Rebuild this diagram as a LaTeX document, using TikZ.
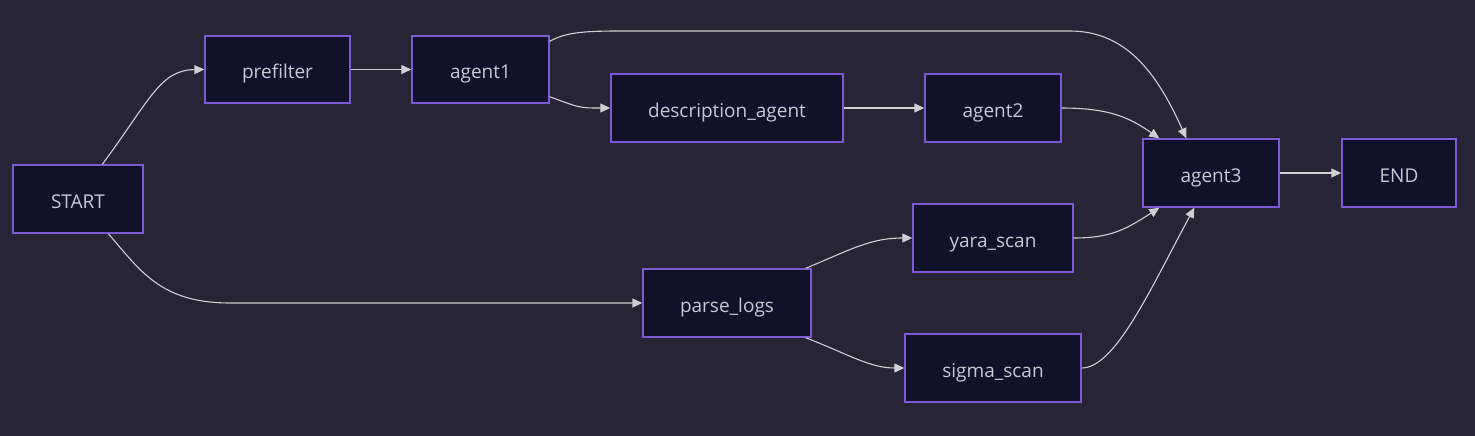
\documentclass[tikz,border=0pt]{standalone}
\usepackage{fontspec}
\setmainfont{Open Sans}
\usetikzlibrary{arrows.meta,calc}
\definecolor{bg}{HTML}{272436}
\definecolor{nodefill}{HTML}{12112A}
\definecolor{nodeborder}{HTML}{7C5AD6}
\definecolor{txt}{HTML}{C9C8D2}
\definecolor{edge}{HTML}{CFCFD4}
\tikzset{
  box/.style={draw=nodeborder, fill=nodefill, line width=1.4pt, text=txt,
    font=\fontsize{19}{21}\selectfont, inner sep=0pt, text height=18pt, text depth=0pt},
  conn/.style={draw=edge, line width=1.1pt, -{Triangle[length=10pt,width=9pt]}},
}
\begin{document}
\begin{tikzpicture}[x=1pt,y=-1pt]
\fill[bg] (0,0) rectangle (1475,436);
\useasboundingbox (0,0) rectangle (1475,436);
\node[box, minimum width=130pt, minimum height=68pt] (start) at (78,199) {START};
\node[box, minimum width=145pt, minimum height=67pt] (prefilter) at (277.5,69.5) {prefilter};
\node[box, minimum width=137pt, minimum height=67pt] (agent1) at (480.5,69.5) {agent1};
\node[box, minimum width=232pt, minimum height=68pt] (desc) at (727,108) {description\_agent};
\node[box, minimum width=136pt, minimum height=68pt] (agent2) at (993,108) {agent2};
\node[box, minimum width=136pt, minimum height=68pt] (agent3) at (1211,173) {agent3};
\node[box, minimum width=114pt, minimum height=68pt] (end) at (1399,173) {END};
\node[box, minimum width=160pt, minimum height=68pt] (yara) at (993,238) {yara\_scan};
\node[box, minimum width=168pt, minimum height=68pt] (parse) at (727,303) {parse\_logs};
\node[box, minimum width=176pt, minimum height=68pt] (sigma) at (993,368) {sigma\_scan};

\coordinate (s1) at ($(start.north west)+(90,0)$);
\coordinate (s2) at ($(start.south west)+(96,0)$);
\coordinate (a1a) at ($(agent1.north east)+(0,6)$);
\coordinate (a1b) at ($(agent1.south east)+(0,-7)$);
\coordinate (a3t1) at ($(agent3.north west)+(17,0)$);
\coordinate (a3t2) at ($(agent3.north west)+(44,0)$);
\coordinate (a3b1) at ($(agent3.south west)+(17,0)$);
\coordinate (a3b2) at ($(agent3.south west)+(52,0)$);
\coordinate (p1) at ($(parse.north east)+(-6,0)$);
\coordinate (p2) at ($(parse.south east)+(-6,0)$);

\draw[conn] (s1) .. controls (150,100) and (160,70) .. (prefilter.west);
\draw[conn] (prefilter) -- (agent1);
\draw[conn] (a1b) .. controls (580,108) and (580,108) .. (desc.west);
\draw[conn] (a1a) .. controls (565,33) and (580,31) .. (620,31) -- (1070,31) .. controls (1130,31) and (1160,80) .. (a3t2);
\draw[conn] (desc) -- (agent2);
\draw[conn] (agent2.east) .. controls (1110,108) and (1130,118) .. (a3t1);
\draw[conn] (agent3) -- (end);
\draw[conn] (s2) .. controls (140,270) and (160,303) .. (230,303) -- (parse.west);
\draw[conn] (p1) .. controls (850,250) and (870,238) .. (yara.west);
\draw[conn] (p2) .. controls (850,355) and (870,368) .. (sigma.west);
\draw[conn] (yara.east) .. controls (1110,238) and (1125,230) .. (a3b1);
\draw[conn] (sigma.east) .. controls (1115,368) and (1150,290) .. (a3b2);
\end{tikzpicture}
\end{document}
